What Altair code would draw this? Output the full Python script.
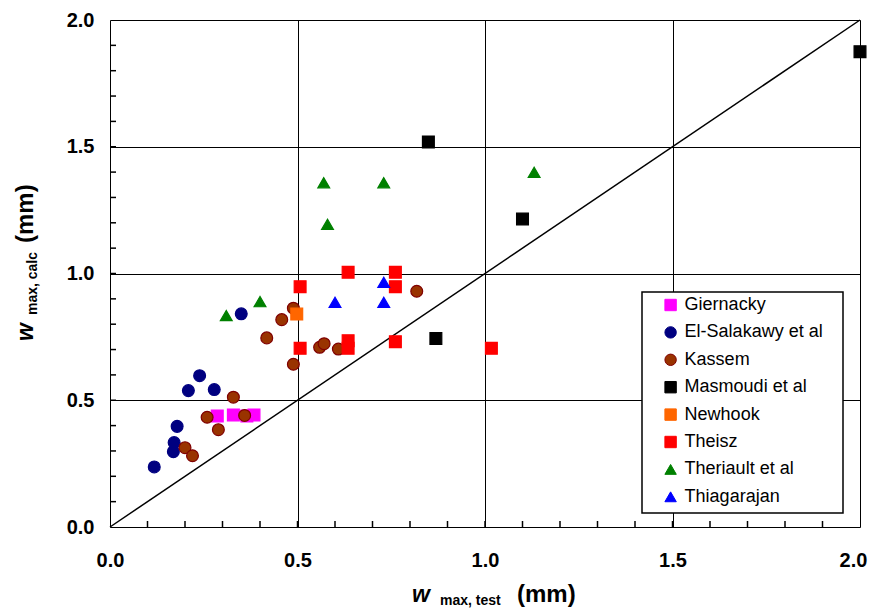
import altair as alt
import pandas as pd

# ---------------- data ----------------
series_names = ["Giernacky", "El-Salakawy et al", "Kassem", "Masmoudi et al",
                "Newhook", "Theisz", "Theriault et al", "Thiagarajan"]

giernacky_x = [0.286, 0.329, 0.365, 0.384]
giernacky_y = [0.438, 0.442, 0.438, 0.442]

elsalakawy_x = [0.118, 0.169, 0.171, 0.179, 0.209, 0.239, 0.278, 0.350]
elsalakawy_y = [0.237, 0.297, 0.333, 0.397, 0.538, 0.597, 0.542, 0.841]

kassem_x = [0.200, 0.220, 0.259, 0.289, 0.329, 0.359, 0.418, 0.458, 0.489,
            0.489, 0.559, 0.571, 0.609, 0.818]
kassem_y = [0.313, 0.281, 0.433, 0.384, 0.512, 0.440, 0.746, 0.818, 0.863,
            0.642, 0.709, 0.723, 0.702, 0.930]

masmoudi_x = [0.849, 0.869, 1.100, 2.000]
masmoudi_y = [1.519, 0.744, 1.215, 1.875]

newhook_x = [0.498]
newhook_y = [0.840]

theisz_x = [0.507, 0.635, 0.761, 0.761, 0.507, 0.635, 0.635, 0.761, 1.017]
theisz_y = [0.948, 1.005, 1.005, 0.948, 0.705, 0.735, 0.705, 0.731, 0.705]

theriault_x = [0.310, 0.400, 0.570, 0.580, 0.730, 1.131]
theriault_y = [0.834, 0.889, 1.358, 1.194, 1.358, 1.399]

thiagarajan_x = [0.600, 0.730, 0.730]
thiagarajan_y = [0.886, 0.965, 0.886]

fills = ["#FF00FF", "#000080", "#993300", "#000000", "#FF6600", "#FF0000", "#008000", "#0000FF"]
strokes = ["#FF00FF", "#000080", "#800000", "#000000", "#FF6600", "#FF0000", "#008000", "#0000FF"]
shapes = ["square", "circle", "circle", "square", "square", "square", "triangle-up", "triangle-up"]

axis_values = [0.0, 0.5, 1.0, 1.5, 2.0]
minor_ticks = [round(0.1 * i, 1) for i in range(1, 20)]
diag_x = [0.0, 2.0]
diag_y = [0.0, 2.0]

all_x = [giernacky_x, elsalakawy_x, kassem_x, masmoudi_x, newhook_x, theisz_x, theriault_x, thiagarajan_x]
all_y = [giernacky_y, elsalakawy_y, kassem_y, masmoudi_y, newhook_y, theisz_y, theriault_y, thiagarajan_y]

rows = []
for i, (name, xs, ys) in enumerate(zip(series_names, all_x, all_y)):
    for j, (a, b) in enumerate(zip(xs, ys)):
        rows.append({"series": name, "x": a, "y": b, "idx": i * 100 + j})
df = pd.DataFrame(rows)

FONT = "Liberation Sans"
W, H = 750, 507

xscale = alt.Scale(domain=[0, 2], nice=False, zero=False)
yscale = alt.Scale(domain=[0, 2], nice=False, zero=False)

x_axis = alt.Axis(values=axis_values, format=".1f", title=None, grid=True, gridColor="#000000",
                  gridWidth=1, gridOpacity=1, ticks=False, domain=False, labelFont=FONT,
                  labelFontSize=20, labelFontWeight="bold", labelColor="#000000", labelPadding=23,
                  labelFlush=False,
                  labelOffset={"condition": {"test": "datum.value >= 2", "value": -7}, "value": 0})
y_axis = alt.Axis(values=axis_values, format=".1f", title=None, grid=True, gridColor="#000000",
                  gridWidth=1, gridOpacity=1, ticks=False, domain=False, labelFont=FONT,
                  labelFontSize=20, labelFontWeight="bold", labelColor="#000000", labelPadding=16,
                  labelFlush=False)

legend = alt.Legend(title=None, orient="none", legendX=551.6, legendY=276, padding=0,
                    labelFont=FONT, labelFontSize=18, labelColor="#000000", symbolSize=130,
                    symbolStrokeWidth=1.0, labelOffset=5, rowPadding=9.4, symbolOffset=0)

# legend box
box = alt.Chart(alt.Data(values=[{}])).mark_rect(fill="white", stroke="black", strokeWidth=1.5).encode(
    x=alt.value(532), x2=alt.value(733), y=alt.value(272), y2=alt.value(493)
)

diag = alt.Chart(pd.DataFrame({"x": diag_x, "y": diag_y})).mark_line(color="black", strokeWidth=1.5).encode(
    x=alt.X("x:Q", scale=xscale, axis=x_axis),
    y=alt.Y("y:Q", scale=yscale, axis=y_axis),
)

xticks = alt.Chart(pd.DataFrame({"v": minor_ticks})).mark_rule(color="black", strokeWidth=1.5).encode(
    x=alt.X("v:Q", scale=xscale), y=alt.value(H), y2=alt.value(H - 6)
)
yticks = alt.Chart(pd.DataFrame({"v": minor_ticks})).mark_rule(color="black", strokeWidth=1.5).encode(
    y=alt.Y("v:Q", scale=yscale), x=alt.value(0), x2=alt.value(6)
)

points = alt.Chart(df).mark_point(filled=True, size=140, strokeWidth=1.2, opacity=1).encode(
    x=alt.X("x:Q", scale=xscale),
    y=alt.Y("y:Q", scale=yscale),
    shape=alt.Shape("series:N", scale=alt.Scale(domain=series_names, range=shapes), legend=legend),
    fill=alt.Fill("series:N", scale=alt.Scale(domain=series_names, range=fills), legend=legend),
    stroke=alt.Stroke("series:N", scale=alt.Scale(domain=series_names, range=strokes), legend=legend),
    order=alt.Order("idx:Q"),
)


def txt(t, x, y, size, italic=False, angle=0):
    props = dict(text=t, font=FONT, fontSize=size, fontWeight="bold", color="black",
                 align="left", baseline="alphabetic")
    if italic:
        props["fontStyle"] = "italic"
    if angle:
        props["angle"] = angle
    return alt.Chart(alt.Data(values=[{}])).mark_text(**props).encode(x=alt.value(x), y=alt.value(y))


titles = [
    txt("w", 302, 582, 23, italic=True),
    txt("max, test", 330, 585, 14),
    txt("(mm)", 407, 582, 24),
    txt("w", -77, 321, 23, italic=True, angle=270),
    txt("max, calc", -73, 295, 14, angle=270),
    txt("(mm)", -77, 223, 24, angle=270),
]

chart = alt.layer(diag, xticks, yticks, box, points, *titles).properties(
    width=W, height=H,
    autosize=alt.AutoSizeParams(type="none"),
    padding={"left": 102, "top": 12, "right": 8, "bottom": 82},
).configure_view(stroke="black", strokeWidth=2).configure(background="white")

chart.save("out.html", embed_options={"renderer": "svg", "actions": False})
